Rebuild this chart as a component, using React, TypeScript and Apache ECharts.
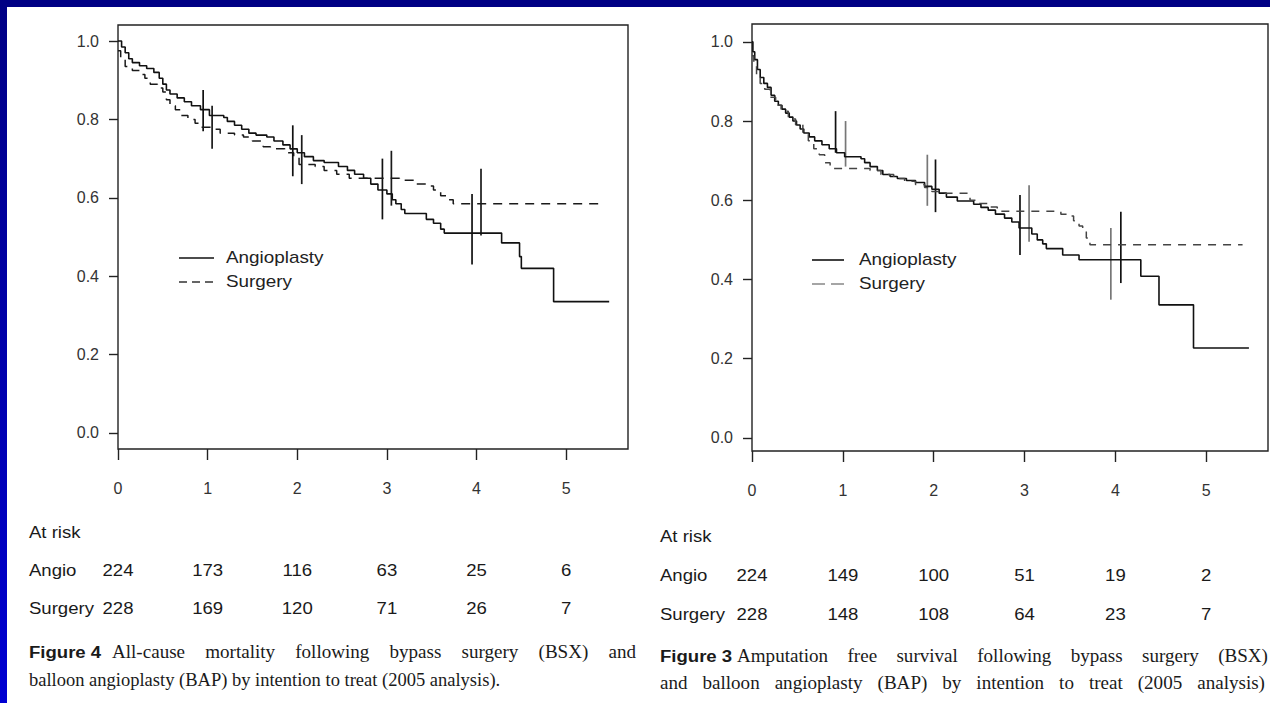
import React, { useEffect, useRef } from "react";
import * as echarts from "echarts";

// ---------------- Data ----------------
const yearTicks = [0, 1, 2, 3, 4, 5];
const survivalTicks = [0, 0.2, 0.4, 0.6, 0.8, 1.0];
const legendNames = ["Angioplasty", "Surgery"];
const atRiskTitle = "At risk";
const atRiskRowLabels = ["Angio", "Surgery"];

// Figure 4 (left): all-cause mortality
const fig4AngioTime = [0, 0.04, 0.08, 0.12, 0.16, 0.24, 0.32, 0.4, 0.46, 0.5, 0.54, 0.58, 0.66, 0.74, 0.82, 0.92, 1.02, 1.18, 1.22, 1.3, 1.38, 1.46, 1.54, 1.66, 1.74, 1.84, 1.92, 2.0, 2.08, 2.18, 2.3, 2.46, 2.56, 2.64, 2.74, 2.82, 2.9, 3.0, 3.06, 3.1, 3.16, 3.2, 3.44, 3.52, 3.6, 3.64, 4.28, 4.48, 4.5, 4.86, 5.48];
const fig4AngioSurv = [1.0, 0.985, 0.97, 0.955, 0.945, 0.937, 0.93, 0.92, 0.905, 0.89, 0.875, 0.865, 0.855, 0.845, 0.835, 0.825, 0.81, 0.805, 0.795, 0.785, 0.775, 0.765, 0.76, 0.755, 0.745, 0.735, 0.725, 0.715, 0.705, 0.695, 0.69, 0.68, 0.67, 0.66, 0.65, 0.635, 0.62, 0.61, 0.595, 0.585, 0.57, 0.56, 0.545, 0.535, 0.52, 0.51, 0.485, 0.45, 0.42, 0.335, 0.335];
const fig4SurgTime = [0, 0.03, 0.08, 0.16, 0.24, 0.3, 0.36, 0.44, 0.5, 0.54, 0.58, 0.64, 0.7, 0.78, 0.86, 0.92, 1.04, 1.14, 1.3, 1.4, 1.5, 1.62, 1.7, 1.86, 1.96, 2.02, 2.2, 2.3, 2.44, 2.58, 3.14, 3.3, 3.44, 3.52, 3.6, 3.66, 3.74, 5.4];
const fig4SurgSurv = [0.975, 0.955, 0.935, 0.925, 0.915, 0.905, 0.89, 0.88, 0.87, 0.85, 0.835, 0.825, 0.81, 0.8, 0.79, 0.78, 0.775, 0.765, 0.76, 0.755, 0.745, 0.73, 0.725, 0.715, 0.705, 0.685, 0.68, 0.67, 0.66, 0.65, 0.645, 0.635, 0.63, 0.62, 0.605, 0.595, 0.585, 0.585];
// [time, lower, upper]
const fig4AngioCI = [[0.95, 0.77, 0.875], [1.95, 0.655, 0.785], [2.95, 0.545, 0.7], [3.95, 0.43, 0.61]];
const fig4SurgCI = [[1.05, 0.725, 0.835], [2.05, 0.635, 0.76], [3.05, 0.58, 0.72], [4.05, 0.504, 0.674]];
const fig4AtRiskAngio = [224, 173, 116, 63, 25, 6];
const fig4AtRiskSurg = [228, 169, 120, 71, 26, 7];
const fig4Label = "Figure 4";
const fig4CaptionLines = [
  "All-cause mortality following bypass surgery (BSX) and",
  "balloon angioplasty (BAP) by intention to treat (2005 analysis).",
];

// Figure 3 (right): amputation free survival
const fig3AngioTime = [0, 0.01, 0.03, 0.06, 0.09, 0.13, 0.17, 0.21, 0.25, 0.29, 0.33, 0.37, 0.41, 0.45, 0.49, 0.53, 0.57, 0.63, 0.69, 0.77, 0.85, 0.93, 1.02, 1.2, 1.24, 1.3, 1.38, 1.44, 1.52, 1.6, 1.7, 1.8, 1.9, 1.98, 2.06, 2.14, 2.26, 2.44, 2.52, 2.6, 2.68, 2.78, 2.86, 2.94, 3.08, 3.14, 3.2, 3.24, 3.42, 3.6, 4.28, 4.48, 4.86, 5.47];
const fig3AngioSurv = [1.0, 0.975, 0.955, 0.93, 0.91, 0.895, 0.885, 0.865, 0.85, 0.84, 0.83, 0.82, 0.81, 0.8, 0.79, 0.78, 0.77, 0.76, 0.75, 0.74, 0.73, 0.72, 0.71, 0.705, 0.695, 0.685, 0.675, 0.665, 0.66, 0.655, 0.65, 0.645, 0.635, 0.628, 0.618, 0.608, 0.598, 0.59, 0.582, 0.575, 0.565, 0.555, 0.545, 0.53, 0.515, 0.5, 0.49, 0.478, 0.462, 0.45, 0.408, 0.336, 0.227, 0.227];
const fig3SurgTime = [0, 0.02, 0.05, 0.09, 0.14, 0.2, 0.26, 0.32, 0.4, 0.48, 0.56, 0.62, 0.68, 0.74, 0.8, 0.86, 1.3, 1.42, 1.56, 1.68, 1.8, 1.9, 1.98, 2.1, 2.4, 2.5, 2.6, 2.7, 3.4, 3.48, 3.54, 3.6, 3.64, 3.68, 3.72, 5.4];
const fig3SurgSurv = [0.965, 0.94, 0.915, 0.895, 0.88, 0.86, 0.84, 0.825, 0.805, 0.79, 0.77, 0.75, 0.73, 0.715, 0.695, 0.68, 0.675, 0.665, 0.655, 0.648, 0.64, 0.632, 0.622, 0.618, 0.6, 0.592, 0.583, 0.572, 0.565, 0.56, 0.548, 0.535, 0.52, 0.505, 0.488, 0.488];
const fig3AngioCI = [[0.92, 0.72, 0.825], [2.02, 0.57, 0.703], [2.95, 0.462, 0.613], [4.06, 0.391, 0.571]];
const fig3SurgCI = [[1.03, 0.685, 0.8], [1.93, 0.586, 0.715], [3.05, 0.495, 0.638], [3.95, 0.349, 0.53]];
const fig3AtRiskAngio = [224, 149, 100, 51, 19, 2];
const fig3AtRiskSurg = [228, 148, 108, 64, 23, 7];
const fig3Label = "Figure 3";
const fig3CaptionLines = [
  "Amputation free survival following bypass surgery (BSX)",
  "and balloon angioplasty (BAP) by intention to treat (2005 analysis)",
];

// ---------------- Layout ----------------
const W = 1270;
const H = 703;
const SANS = '"Liberation Sans", Arial, sans-serif';
const SERIF = '"Liberation Serif", "Times New Roman", serif';
const INK = "#1a1a1a";

const panels = [
  {
    grid: { left: 118, top: 25, width: 510, height: 424 },
    xMax: 5.69, yMin: -0.041, yMax: 1.041,
    labelMarginY: 19, labelMarginX: 31,
    angioTime: fig4AngioTime, angioSurv: fig4AngioSurv,
    surgTime: fig4SurgTime, surgSurv: fig4SurgSurv,
    angioCI: fig4AngioCI, surgCI: fig4SurgCI,
    surgColor: "#1a1a1a", surgCIColor: "#1a1a1a", surgDash: [9, 7],
    legend: { lineX0: 179, lineX1: 214, textX: 226, y0: 258, y1: 282, dash: [8, 5], surgColor: "#333" },
    table: { textX: 29, titleY: 532, rowY: [570, 608] },
    atRisk: [fig4AtRiskAngio, fig4AtRiskSurg],
    caption: { label: fig4Label, lines: fig4CaptionLines, x0: 29, line1Start: 112, line1End: 636, line2End: 0, y: [652, 680] },
  },
  {
    grid: { left: 752, top: 24, width: 516, height: 427 },
    xMax: 5.68, yMin: -0.033, yMax: 1.045,
    labelMarginY: 19, labelMarginX: 31,
    angioTime: fig3AngioTime, angioSurv: fig3AngioSurv,
    surgTime: fig3SurgTime, surgSurv: fig3SurgSurv,
    angioCI: fig3AngioCI, surgCI: fig3SurgCI,
    surgColor: "#444", surgCIColor: "#777", surgDash: [8, 7],
    legend: { lineX0: 812, lineX1: 844, textX: 859, y0: 260, y1: 284, dash: [13, 6], surgColor: "#888" },
    table: { textX: 660, titleY: 536, rowY: [575, 614] },
    atRisk: [fig3AtRiskAngio, fig3AtRiskSurg],
    caption: { label: fig3Label, lines: fig3CaptionLines, x0: 660, line1Start: 737, line1End: 1268, line2End: 1265, y: [656, 683] },
  },
];

const kmData = (t: number[], s: number[]) => t.map((x, i) => [x, s[i]]);

let measureCtx: CanvasRenderingContext2D | null = null;
function measure(text: string, font: string): number {
  if (!measureCtx) measureCtx = document.createElement("canvas").getContext("2d");
  if (!measureCtx) return text.length * 8;
  measureCtx.font = font;
  return measureCtx.measureText(text).width;
}

function textEl(x: number, y: number, text: string, font: string, align: string, sx: number, fill = INK) {
  return {
    type: "text",
    x, y,
    scaleX: sx,
    silent: true,
    z: 10,
    style: {
      x: 0, y: 0, text, font, fill,
      align, textAlign: align,
      verticalAlign: "middle", textVerticalAlign: "middle",
    },
  };
}

function justified(text: string, x0: number, x1: number, y: number, font: string, sx: number) {
  const words = text.split(" ");
  const widths = words.map((w) => measure(w, font) * sx);
  const total = widths.reduce((a, b) => a + b, 0);
  const gap = words.length > 1 ? (x1 - x0 - total) / (words.length - 1) : 0;
  let x = x0;
  return words.map((w, i) => {
    const el = textEl(x, y, w, font, "left", sx);
    x += widths[i] + gap;
    return el;
  });
}

function buildOption() {
  const grids: any[] = [];
  const xAxes: any[] = [];
  const yAxes: any[] = [];
  const series: any[] = [];
  const graphics: any[] = [];

  const tableFont = `16px ${SANS}`;
  const tableSx = 1.16;
  const capFont = `18px ${SERIF}`;
  const capSx = 1.06;
  const labelFont = `bold 16px ${SANS}`;
  const labelSx = 1.16;

  panels.forEach((p, i) => {
    grids.push({
      ...p.grid,
      show: true,
      borderColor: "#222",
      borderWidth: 1.4,
      backgroundColor: "transparent",
    });
    xAxes.push({
      type: "value", gridIndex: i, min: 0, max: p.xMax, position: "bottom",
      axisLine: { show: false, onZero: false },
      splitLine: { show: false },
      axisTick: { show: true, inside: false, length: 11, customValues: yearTicks, lineStyle: { color: "#222", width: 1.4 } },
      axisLabel: { customValues: yearTicks, margin: p.labelMarginX, fontSize: 16, fontFamily: SANS, color: "#333", formatter: (v: number) => String(v) },
    });
    yAxes.push({
      type: "value", gridIndex: i, min: p.yMin, max: p.yMax, position: "left",
      axisLine: { show: false, onZero: false },
      splitLine: { show: false },
      axisTick: { show: true, inside: false, length: 9, customValues: survivalTicks, lineStyle: { color: "#222", width: 1.4 } },
      axisLabel: { customValues: survivalTicks, margin: p.labelMarginY, fontSize: 16, fontFamily: SANS, color: "#333", formatter: (v: number) => v.toFixed(1) },
    });

    series.push({
      type: "line", name: legendNames[0], xAxisIndex: i, yAxisIndex: i,
      step: "end", showSymbol: false, symbol: "none", silent: true,
      lineStyle: { color: "#111", width: 1.6, type: "solid" },
      data: kmData(p.angioTime, p.angioSurv),
    });
    series.push({
      type: "line", name: legendNames[1], xAxisIndex: i, yAxisIndex: i,
      step: "end", showSymbol: false, symbol: "none", silent: true,
      lineStyle: { color: p.surgColor, width: 1.5, type: p.surgDash },
      data: kmData(p.surgTime, p.surgSurv),
    });
    const ci = (data: number[][], color: string, name: string) => ({
      type: "custom", name, xAxisIndex: i, yAxisIndex: i, silent: true,
      encode: { x: 0, y: [1, 2] },
      data,
      renderItem: (_params: any, api: any) => {
        const a = api.coord([api.value(0), api.value(1)]);
        const b = api.coord([api.value(0), api.value(2)]);
        return { type: "line", shape: { x1: a[0], y1: a[1], x2: b[0], y2: b[1] }, style: { stroke: color, lineWidth: 1.7 } };
      },
    });
    series.push(ci(p.angioCI, "#111", legendNames[0] + " CI"));
    series.push(ci(p.surgCI, p.surgCIColor, legendNames[1] + " CI"));

    // legend
    const L = p.legend;
    graphics.push({ type: "line", silent: true, shape: { x1: L.lineX0, y1: L.y0, x2: L.lineX1, y2: L.y0 }, style: { stroke: "#111", lineWidth: 1.6 } });
    graphics.push({ type: "line", silent: true, shape: { x1: L.lineX0, y1: L.y1, x2: L.lineX1, y2: L.y1 }, style: { stroke: L.surgColor, lineWidth: 1.6, lineDash: L.dash } });
    graphics.push(textEl(L.textX, L.y0, legendNames[0], `16px ${SANS}`, "left", 1.18, "#222"));
    graphics.push(textEl(L.textX, L.y1, legendNames[1], `16px ${SANS}`, "left", 1.18, "#222"));

    // at-risk table
    const T = p.table;
    const xPix = (year: number) => p.grid.left + (year * p.grid.width) / p.xMax;
    graphics.push(textEl(T.textX, T.titleY, atRiskTitle, tableFont, "left", tableSx));
    atRiskRowLabels.forEach((lab, r) => {
      graphics.push(textEl(T.textX, T.rowY[r], lab, tableFont, "left", tableSx));
      p.atRisk[r].forEach((n, k) => {
        graphics.push(textEl(xPix(yearTicks[k]), T.rowY[r], String(n), tableFont, "center", tableSx));
      });
    });

    // caption
    const C = p.caption;
    graphics.push(textEl(C.x0, C.y[0], C.label, labelFont, "left", labelSx));
    graphics.push(...justified(C.lines[0], C.line1Start, C.line1End, C.y[0], capFont, capSx));
    if (C.line2End > 0) {
      graphics.push(...justified(C.lines[1], C.x0, C.line2End, C.y[1], capFont, capSx));
    } else {
      graphics.push(textEl(C.x0, C.y[1], C.lines[1], capFont, "left", capSx * 0.97));
    }
  });

  // blue slide frame
  graphics.push({ type: "rect", silent: true, z: 20, shape: { x: 0, y: 0, width: W, height: 7 }, style: { fill: "#000084" } });
  graphics.push({
    type: "rect", silent: true, z: 20, shape: { x: 0, y: 0, width: 7, height: H },
    style: {
      fill: { type: "linear", x: 0, y: 0, x2: 0, y2: 1, colorStops: [{ offset: 0, color: "#000084" }, { offset: 1, color: "#0000d2" }] },
    },
  });

  return {
    animation: false,
    backgroundColor: "#ffffff",
    grid: grids,
    xAxis: xAxes,
    yAxis: yAxes,
    series,
    graphic: { elements: graphics },
  };
}

export default function App() {
  const ref = useRef<HTMLDivElement>(null);
  useEffect(() => {
    if (!ref.current) return;
    const chart = echarts.init(ref.current, null, { renderer: "svg" });
    chart.setOption(buildOption() as any);
    return () => chart.dispose();
  }, []);
  return <div ref={ref} style={{ position: "absolute", left: 0, top: 0, width: W, height: H }} />;
}
